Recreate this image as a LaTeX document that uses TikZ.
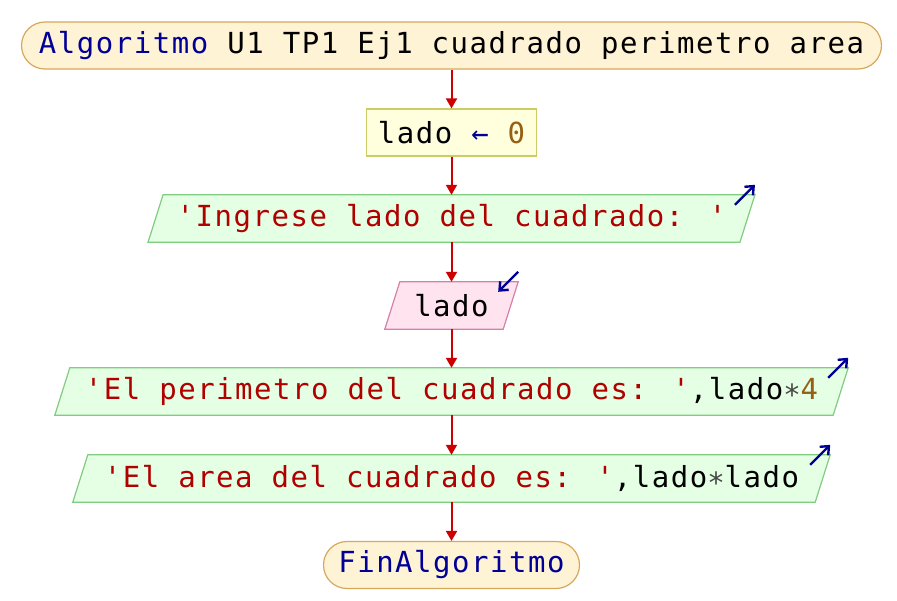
\documentclass[tikz,border=0pt]{standalone}
\usepackage{fontspec}
\newfontfamily\codefont[LetterSpace=5.3]{DejaVu Sans Mono}
\usetikzlibrary{arrows.meta,backgrounds}
\definecolor{termfill}{RGB}{255,243,214}
\definecolor{termline}{RGB}{214,168,92}
\definecolor{procfill}{RGB}{255,255,221}
\definecolor{procline}{RGB}{204,204,102}
\definecolor{infill}{RGB}{255,228,240}
\definecolor{inline}{RGB}{212,128,168}
\definecolor{outfill}{RGB}{228,255,228}
\definecolor{outline}{RGB}{128,204,128}
\definecolor{flowred}{RGB}{204,0,0}
\definecolor{kwblue}{RGB}{0,0,150}
\definecolor{strred}{RGB}{176,0,0}
\definecolor{numbrown}{RGB}{150,96,20}
\definecolor{opgray}{RGB}{70,70,70}
\newcommand{\kw}[1]{\textcolor{kwblue}{#1}}
\newcommand{\str}[1]{\textcolor{strred}{#1}}
\newcommand{\num}[1]{\textcolor{numbrown}{#1}}
\newcommand{\op}[1]{\textcolor{opgray}{#1}}
\begin{document}
\begin{tikzpicture}[x=1pt,y=-1pt,
  font=\codefont\fontsize{29}{34}\selectfont,
  term/.style={draw=termline, fill=termfill, line width=1.2pt,
    rounded corners=23.5pt, minimum height=47pt, inner sep=0pt},
  procbox/.style={draw=procline, fill=procfill, line width=1.2pt,
    minimum height=47pt, inner sep=0pt},
  iobox/.style={minimum height=47pt, inner sep=0pt},
  inshape/.style={draw=inline, fill=infill, line width=1.2pt},
  outshape/.style={draw=outline, fill=outfill, line width=1.2pt},
  flow/.style={draw=flowred, line width=2pt,
    -{Triangle[width=11pt,length=10pt]}},
  iomark/.style={draw=kwblue, line width=2.4pt,
    -{Straight Barb[length=7pt,width=12pt,line width=2.4pt]}}]
\useasboundingbox (0,0) rectangle (897,600);

% nodes of the flowchart
\node[term, minimum width=860pt] (start) at (451.5,45.5)
  {\kw{Algoritmo} U1 TP1 Ej1 cuadrado perimetro area};
\node[procbox, minimum width=170pt] (init) at (451.5,132.5)
  {lado \kw{←} \num{0}};
\node[iobox, minimum width=591.5pt] (ask) at (451.5,218.5)
  {\str{'Ingrese lado del cuadrado: '}};
\node[iobox, minimum width=118pt] (read) at (451.5,305.5)
  {lado};
\node[iobox, minimum width=778pt] (perim) at (451.5,391.5)
  {\str{'El perimetro del cuadrado es: '},lado\op{∗}\num{4}};
\node[iobox, minimum width=742pt] (area) at (451.5,478.5)
  {\str{'El area del cuadrado es: '},lado\op{∗}lado};
\node[term, minimum width=256pt] (finish) at (451.5,565)
  {\kw{FinAlgoritmo}};

% parallelogram outlines behind the input/output nodes
\begin{scope}[on background layer]
  \foreach \n/\s in {ask/outshape, read/inshape, perim/outshape, area/outshape}{
    \path[\s] ([xshift=7.5pt]\n.north west) -- ([xshift=7.5pt]\n.north east)
      -- ([xshift=-7.5pt]\n.south east) -- ([xshift=-7.5pt]\n.south west) -- cycle;
  }
\end{scope}

% output / input markers
\foreach \n in {ask, perim, area}{
  \draw[iomark] ([shift={(-12.5,10)}]\n.north east) -- ([shift={(7.5,-10)}]\n.north east);
}
\draw[iomark] ([shift={(7.5,-10)}]read.north east) -- ([shift={(-12.5,10)}]read.north east);

% flow connectors
\draw[flow] (start) -- (init);
\draw[flow] (init) -- (ask);
\draw[flow] (ask) -- (read);
\draw[flow] (read) -- (perim);
\draw[flow] (perim) -- (area);
\draw[flow] (area) -- (finish);
\end{tikzpicture}
\end{document}
